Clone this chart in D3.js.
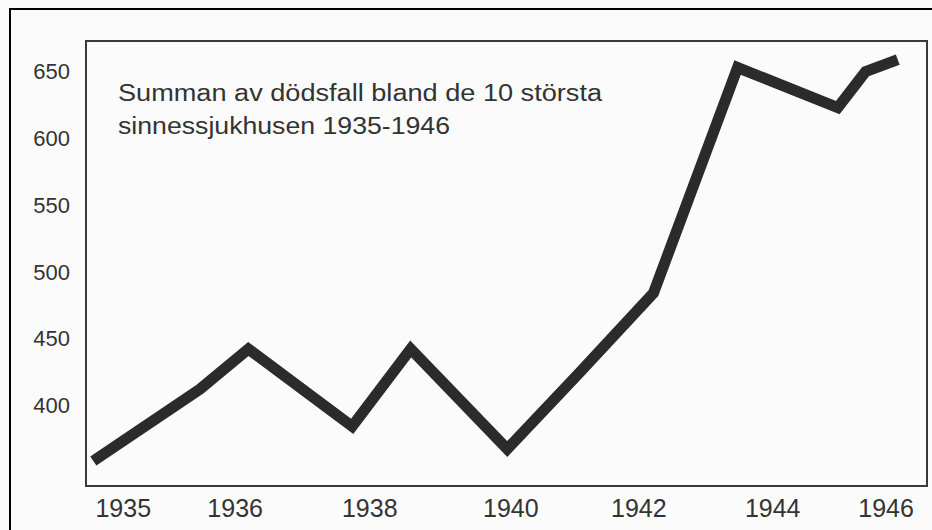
<!DOCTYPE html>
<html lang="sv">
<head>
	<meta charset="utf-8">
	<title>Dödsfall sinnessjukhus 1935-1946</title>
	<script type="text/javascript" src="https://cdn.jsdelivr.net/npm/d3@7"></script>
<style>
	body {
		margin: 0;
		background: #fbfbfb;
		font-family: "Liberation Sans", Arial, sans-serif;
	}
	#chart text { fill: #333; }
</style>
</head>
<body>
<svg id="chart" width="932" height="530"></svg>
<script type="text/javascript">

//data
var years  = [1935, 1936, 1937, 1938, 1939, 1940, 1941, 1942, 1943, 1944, 1945, 1946]
var deaths = [358, 412, 442, 384, 442, 367, 425, 484, 653, 623, 650, 659]
//the drawing is not evenly spaced: where each point sits along the time axis (in years)
var pointAt = [1935.00, 1936.46, 1937.12, 1938.54, 1939.34, 1940.66, 1941.66, 1942.66, 1943.81, 1945.18, 1945.56, 1946.00]
var xTickLabels = ["1935", "1936", "1938", "1940", "1942", "1944", "1946"]
var xTickAt = [1935.41, 1936.94, 1938.78, 1940.71, 1942.46, 1944.29, 1945.84]
var yTicks = [400, 450, 500, 550, 600, 650]
var titleLines = ["Summan av dödsfall bland de 10 största", "sinnessjukhusen 1935-1946"]

var svg = d3.select("#chart")
var box = {left: 86, top: 41, right: 927, bottom: 486}

var x = d3.scaleLinear().domain([1934.9, 1946.4]).range([box.left, box.right])
var y = d3.scaleLinear().domain([339.3, 672.9]).range([box.bottom, box.top])

//outer page frame (only top and left are inside the picture)
svg.append("path")
	.attr("d", "M10,532 L10,9 L934,9")
	.attr("fill", "none")
	.attr("stroke", "#000")
	.attr("stroke-width", 2)

//plot frame
svg.append("rect")
	.attr("x", box.left).attr("y", box.top)
	.attr("width", box.right - box.left).attr("height", box.bottom - box.top)
	.attr("fill", "none")
	.attr("stroke", "#3a3a3a")
	.attr("stroke-width", 2)

//y labels, no tick marks
svg.append("g").selectAll("text")
	.data(yTicks)
	.enter().append("text")
	.attr("x", 70)
	.attr("y", function(d) { return y(d) })
	.attr("dy", "0.36em")
	.attr("text-anchor", "end")
	.style("font-size", "22px")
	.text(function(d) { return d })

//x labels
svg.append("g").selectAll("text")
	.data(xTickLabels)
	.enter().append("text")
	.attr("x", function(d, i) { return x(xTickAt[i]) })
	.attr("y", 517)
	.attr("text-anchor", "middle")
	.style("font-size", "25px")
	.text(function(d) { return d })

//title inside the plot, scan is a bit stretched sideways
svg.append("g").selectAll("text")
	.data(titleLines)
	.enter().append("text")
	.attr("x", 118)
	.attr("y", function(d, i) { return 101 + i * 33 })
	.attr("textLength", function(d, i) { return i == 0 ? 484 : 332 })
	.attr("lengthAdjust", "spacingAndGlyphs")
	.style("font-size", "23px")
	.text(function(d) { return d })

//the series
var line = d3.line()
	.x(function(d, i) { return x(pointAt[i]) })
	.y(function(d) { return y(d) })

svg.append("path")
	.datum(deaths)
	.attr("d", line)
	.attr("fill", "none")
	.attr("stroke", "#2b2b2b")
	.attr("stroke-width", 11)
	.attr("stroke-linejoin", "miter")
	.attr("stroke-linecap", "butt")

</script>
</body>
</html>
